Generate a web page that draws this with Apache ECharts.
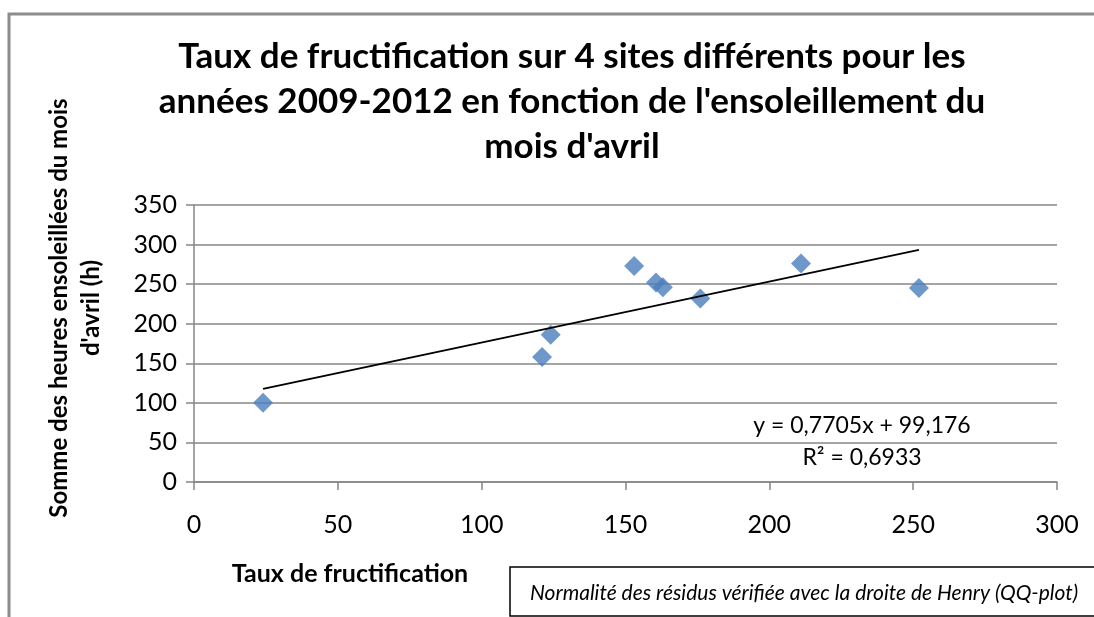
<!DOCTYPE html>
<html>
<head>
<meta charset="utf-8">
<title>Taux de fructification</title>
<script src="https://cdn.jsdelivr.net/npm/echarts@6/dist/echarts.min.js"></script>
<style>
  html, body { margin: 0; padding: 0; background: #fff; }
  #chart { width: 1094px; height: 617px; }
</style>
</head>
<body>
<div id="chart"></div>
<script>
// taux de fructification (x) / heures ensoleillées avril (y)
const tauxFructif = [24, 121, 124, 153, 160.6, 163, 176, 211, 252]
const heuresSoleil = [100, 158, 186, 273, 252, 246, 232, 276, 245]

// courbe de tendance linéaire (Excel)
const pente = 0.7705
const ordonnee = 99.176
const r2 = 0.6933

const xMin = 0, xMax = 300, xStep = 50
const yMin = 0, yMax = 350, yStep = 50

const titre = ['Taux de fructification sur 4 sites différents pour les',
  'années 2009-2012 en fonction de l\'ensoleillement du',
  'mois d\'avril']
const titreY = ['Somme des heures ensoleillées du mois', 'd\'avril (h)']
const titreX = 'Taux de fructification'
const note = 'Normalité des résidus vérifiée avec la droite de Henry (QQ-plot)'

const virgule = v => String(v).replace('.', ',')

let points = tauxFructif.map((x, i) => [x, heuresSoleil[i]])
let x0 = Math.min(...tauxFructif)
let x1 = Math.max(...tauxFructif)
let tendance = [[x0, pente * x0 + ordonnee], [x1, pente * x1 + ordonnee]]

const font = 'Lato, "Open Sans", sans-serif'
const gris = '#868686'

let chart = echarts.init(document.getElementById('chart'), null, { renderer: 'canvas' })
let option = {
  animation: false,
  backgroundColor: '#fff',
  grid: {
    left: 194,
    right: 37,
    top: 205,
    bottom: 135
  },
  xAxis: {
    type: 'value',
    min: xMin,
    max: xMax,
    interval: xStep,
    axisLine: { show: true, lineStyle: { color: gris, width: 1.5 } },
    axisTick: { show: true, length: 8, lineStyle: { color: gris, width: 1.5 } },
    splitLine: { show: false },
    axisLabel: { color: '#000', fontSize: 25, fontFamily: font, margin: 30 }
  },
  yAxis: {
    type: 'value',
    min: yMin,
    max: yMax,
    interval: yStep,
    axisLine: { show: true, lineStyle: { color: gris, width: 1.5 } },
    axisTick: { show: true, length: 8, lineStyle: { color: gris, width: 1.5 } },
    splitLine: { show: true, lineStyle: { color: gris, width: 1.5 } },
    axisLabel: { color: '#000', fontSize: 25, fontFamily: font, margin: 17 }
  },
  series: [
    {
      type: 'scatter',
      data: points,
      symbol: 'diamond',
      symbolSize: 20,
      itemStyle: { color: '#4a7ebb' },
      z: 3
    },
    {
      type: 'line',
      data: tendance,
      symbol: 'none',
      lineStyle: { color: '#000', width: 1.8 },
      z: 4
    }
  ],
  graphic: [
    {
      type: 'rect',
      shape: { x: 9, y: 14, width: 1200, height: 700 },
      style: { fill: null, stroke: '#8c8c8c', lineWidth: 3 },
      z: -1
    },
    {
      type: 'text',
      x: 572,
      y: 102,
      style: {
        text: titre.join('\n'),
        font: 'bold 35px ' + font,
        lineHeight: 45,
        fill: '#000',
        textAlign: 'center',
        textVerticalAlign: 'middle'
      }
    },
    {
      type: 'text',
      x: 75,
      y: 308,
      rotation: Math.PI / 2,
      style: {
        text: titreY.join('\n'),
        font: 'bold 24px ' + font,
        lineHeight: 32,
        fill: '#000',
        textAlign: 'center',
        textVerticalAlign: 'middle'
      }
    },
    {
      type: 'text',
      x: 350,
      y: 574,
      style: {
        text: titreX,
        font: 'bold 25px ' + font,
        fill: '#000',
        textAlign: 'center',
        textVerticalAlign: 'middle'
      }
    },
    {
      type: 'text',
      x: 862,
      y: 442,
      style: {
        text: 'y = ' + virgule(pente) + 'x + ' + virgule(ordonnee) + '\nR² = ' + virgule(r2),
        font: '23px ' + font,
        lineHeight: 32,
        fill: '#000',
        textAlign: 'center',
        textVerticalAlign: 'middle'
      }
    },
    {
      type: 'rect',
      shape: { x: 510, y: 567, width: 600, height: 49 },
      style: { fill: '#fff', stroke: '#000', lineWidth: 1.5 }
    },
    {
      type: 'text',
      x: 804,
      y: 593,
      style: {
        text: note,
        font: 'italic 21px ' + font,
        fill: '#000',
        textAlign: 'center',
        textVerticalAlign: 'middle'
      }
    }
  ]
}
chart.setOption(option)
</script>
</body>
</html>
